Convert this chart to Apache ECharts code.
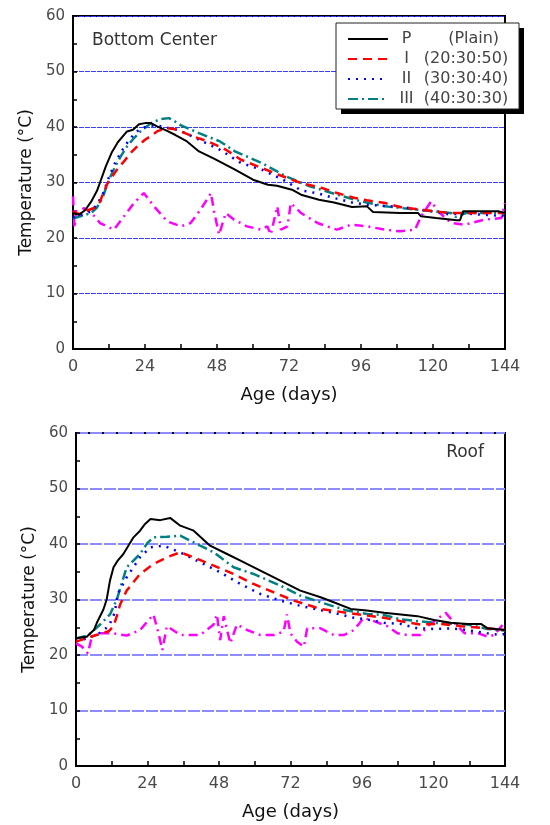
<!DOCTYPE html>
<html>
<head>
<meta charset="utf-8">
<script src="https://cdn.jsdelivr.net/npm/echarts@6/dist/echarts.min.js"></script>
<style>
html,body{margin:0;padding:0;background:#fff;}
#main{width:550px;height:825px;}
</style>
</head>
<body>
<div id="main"></div>
<script>
// ---------- axis ticks ----------
const xTicks = [0, 24, 48, 72, 96, 120, 144];
const yTicks = [0, 10, 20, 30, 40, 50, 60];
const seriesNames = ['P', 'I', 'II', 'III'];
const ratioLabels = ['   (Plain)', '(20:30:50)', '(30:30:40)', '(40:30:30)'];
const panelTitles = ['Bottom Center', 'Roof'];

// ---------- Bottom Center ----------
const bcPDays = [0,2,4,6,8,9,11,13,15,18,20,22,24,26,28,31,34,38,42,47,54,60,65,68,73,76,82,87,93,98,100,109,115,116,121,128,129,130,142,144];
const bcPTemp = [24.5,24.2,25,26.5,28.5,30,33,35.5,37.3,39.2,39.5,40.5,40.7,40.7,40.1,39.4,38.6,37.4,35.6,34.3,32.3,30.5,29.6,29.4,28.7,27.8,26.9,26.4,25.6,25.7,24.7,24.5,24.5,23.9,23.6,23.2,23.2,24.8,24.8,24.5];

const bcIDays = [0,2,4,7,9,10,11.5,13,15,17,19,21,24,26,28,31,34,36,40,45,51,56,63,69,76,83,88,94,98,104,109,116,121,125,130,137,144];
const bcITemp = [24.8,24.3,24.8,25.4,26.5,28,29.8,31,32.6,33.8,35.2,36.3,37.7,38.4,39.2,39.8,39.6,39.2,38.3,37.4,35.9,34.1,32.6,31.3,29.9,29,28.1,27.2,26.8,26.3,25.6,25.1,24.8,24.5,24.5,24.5,24.5];

const bcIIDays = [0,3,6,8,10,12,14,16,18,20,22,25,28,31,34,38,42,49,56,63,70,76,82,87,93,98,109,120,126,129,136,143,144];
const bcIITemp = [23.7,24.2,24.8,26,28,31,33.5,35.5,37.1,38.5,39.5,40.2,40.3,39.9,39.6,38.8,37.7,35.9,33.5,32.3,30.5,28.6,28.0,27.2,26.4,26.0,25.6,24.8,24.2,24.5,24.2,24.0,24.2];

const bcIIIDays = [0,3,6,8,10,12,14,16,18,20,22.5,26,29,32,34,36,42,49,54,63,71,79,90,96,104,115,126,127.5,131,143,144];
const bcIIITemp = [23.5,24.0,24.5,25.5,27.5,30.5,32.8,34.8,36.5,37.8,39.2,40.7,41.4,41.6,41.0,40.3,38.9,37.4,35.6,33.5,31.1,29.3,27.5,26.6,25.7,25.1,24.5,23.8,24.5,24.5,24.5];

const bcAirDays = [0,0.5,1,2,3.6,5.8,9,13.6,17,20.3,23.6,27,31.4,36,39.2,42.5,45.3,46,47,48.7,50.9,53.7,58,62.6,64.8,65.9,68.1,69.3,71.5,72.6,76,81.5,88,92.7,98,104,109,114,116,119.4,121.7,126,130.5,137,142.8,144];
const bcAirTemp = [27.5,21.8,25,24,25.4,24.8,22.7,21.5,23.9,26.3,28.1,25.7,23,22.1,22.7,25.1,27.5,28.1,24.8,20.6,24.5,23.3,22.1,21.5,22.1,20.6,25.7,21.5,22.1,26.3,24.5,22.7,21.5,22.4,22.1,21.5,21.2,21.5,23.9,26.6,24.8,22.7,22.4,23.3,23.6,26.3];

// ---------- Roof ----------
const rfPDays = [0,3.6,6,7,9.2,10.3,11.4,12.6,14,15.9,19.3,21.5,23,25,28.3,31.6,35,39.5,45,50.7,55.2,61.9,68.6,75.3,82.1,86.5,92.2,97.6,103.4,109,114.6,120.2,125.8,131.4,135.9,138.2,144];
const rfPTemp = [23.0,23.3,24.5,25.8,28.2,30,33.4,35.8,37,38.2,41.2,42.4,43.5,44.5,44.3,44.7,43.3,42.4,39.7,38.2,37,35.2,33.4,31.6,30.4,29.5,28.3,28.0,27.6,27.3,27.0,26.3,25.8,25.6,25.6,24.8,24.5];

const rfIDays = [0,5,8,11,12.6,13.7,14.8,17,21.5,26,30.5,35,39.5,46.2,52.9,59.6,66.4,73.1,82.1,91,97.8,103.4,109,115.7,122.5,129.2,136,144];
const rfITemp = [22.4,23.3,23.8,24.3,25.2,27,29.1,31.6,34.6,36.4,37.6,38.5,37.6,36.1,34.6,32.8,31.3,29.8,28.3,27.6,27.1,26.7,26.1,25.5,25.6,25.2,24.9,24.5];

const rfIIDays = [0,4,8,11,13,14,17,21.5,25,29.4,35,41.7,48.4,55.2,61.9,68.6,75,81,86.5,93.3,97.8,103.4,109,114.6,120.2,125.8,131.4,138,142.6,144];
const rfIITemp = [22.5,23.0,24.0,25.2,27.6,31.0,34.0,37.6,39.4,39.7,38.5,36.7,34.9,32.8,31.0,29.8,28.9,28.2,27.6,26.7,26.4,25.8,25.6,24.8,24.7,24.8,24.5,23.9,23.6,23.8];

const rfIIIDays = [0,4,8.1,11.4,13.7,17,21.5,24,26,30.5,35,39.5,46.2,52.9,59.6,68.6,75.3,82.1,91,97.8,103.4,109,120.2,131.4,138,144];
const rfIIITemp = [23.0,23.5,25.5,27.3,30,35.8,38.2,40.2,41.2,41.3,41.5,40.3,38.5,35.8,34.6,32.5,30.7,29.5,28.0,27.4,27.2,26.4,25.8,25.5,24.7,24.4];

const rfAirDays = [0,2,4,5.3,8,12.6,17,21.5,26,27.7,29,30.5,35,41.7,46.2,47.3,48.4,49.6,51.8,54,57.4,61.9,66.4,69.7,70.8,72,74.2,76.5,77.6,82.1,86.5,89.9,93.3,96.6,100,104.5,107.9,111.2,115.7,118,120.2,124.1,127,130.5,135,138.2,140.4,143.7];
const rfAirTemp = [22.1,21.5,20.3,23.3,23.9,23.9,23.5,24.5,27.3,23.9,20.9,25.2,23.6,23.6,25.5,27.3,22.7,27,22.1,25.5,24.5,23.6,23.6,24.2,27.3,23.9,22.4,21.5,24.8,24.8,23.6,23.6,24.5,26.7,26.1,25.2,23.9,23.6,23.6,25.2,26.1,27.6,25.8,23.9,23.9,23.3,23.6,25.8];

// ---------- build ----------
const FONT = 'DejaVu Sans';
const zip = (xs, ys) => xs.map((x, i) => [x, ys[i]]);

const styles = [
  {color: '#000000', width: 2, type: 'solid'},
  {color: '#ff0000', width: 2.5, type: [9, 6]},
  {color: '#0000ff', width: 2.5, type: [2, 6]},
  {color: '#008080', width: 2.5, type: [10, 4, 2, 4]}
];
const airStyle = {color: '#ff00ff', width: 2.5, type: [9, 5, 2, 5]};

const panels = [
  {days: [bcPDays, bcIDays, bcIIDays, bcIIIDays], temps: [bcPTemp, bcITemp, bcIITemp, bcIIITemp], airD: bcAirDays, airT: bcAirTemp},
  {days: [rfPDays, rfIDays, rfIIDays, rfIIIDays], temps: [rfPTemp, rfITemp, rfIITemp, rfIIITemp], airD: rfAirDays, airT: rfAirTemp}
];

const grids = [
  {left: 73, top: 16, width: 432, height: 333},
  {left: 76, top: 433, width: 429, height: 333}
];
const splitStyles = [
  {color: '#3c3cff', width: 1, type: [5, 1]},
  {color: '#8c8cff', width: 2, type: [12, 2]}
];

const xAxes = [], yAxes = [], series = [];
grids.forEach((g, i) => {
  g.show = true; g.borderColor = '#000'; g.borderWidth = 2; g.backgroundColor = 'transparent';
  xAxes.push({
    type: 'value', gridIndex: i, min: xTicks[0], max: xTicks[xTicks.length - 1], interval: xTicks[1] - xTicks[0],
    name: 'Age (days)', nameLocation: 'middle', nameGap: 37,
    nameTextStyle: {fontFamily: FONT, fontSize: 18, color: '#111'},
    axisLine: {show: true, onZero: false, lineStyle: {color: '#000', width: 2}},
    axisTick: {show: true, inside: true, length: 5, lineStyle: {color: '#000', width: 1.5}},
    minorTick: {show: true, splitNumber: 2, length: 5, lineStyle: {color: '#000', width: 1.5}},
    axisLabel: {fontFamily: FONT, fontSize: 16, color: '#4a4a4a', margin: 10},
    splitLine: {show: false}
  });
  yAxes.push({
    type: 'value', gridIndex: i, min: yTicks[0], max: yTicks[yTicks.length - 1], interval: yTicks[1] - yTicks[0],
    name: 'Temperature (°C)', nameLocation: 'middle', nameGap: 37, nameRotate: 90,
    nameTextStyle: {fontFamily: FONT, fontSize: 17, color: '#111'},
    axisLine: {show: true, onZero: false, lineStyle: {color: '#000', width: 2}},
    axisTick: {show: true, inside: true, length: 4, lineStyle: {color: '#000', width: 1.5}},
    minorTick: {show: true, splitNumber: 2, length: 4, lineStyle: {color: '#000', width: 1.5}},
    axisLabel: {fontFamily: FONT, fontSize: 15, color: '#4a4a4a', margin: 8},
    splitLine: {show: true, lineStyle: splitStyles[i]}
  });
  const p = panels[i];
  series.push({
    type: 'line', name: 'air', xAxisIndex: i, yAxisIndex: i, symbol: 'none',
    data: zip(p.airD, p.airT), lineStyle: airStyle, itemStyle: {color: airStyle.color}, z: 2, silent: true
  });
  seriesNames.forEach((n, k) => {
    series.push({
      type: 'line', name: n, xAxisIndex: i, yAxisIndex: i, symbol: 'none',
      data: zip(p.days[k], p.temps[k]), lineStyle: styles[k], itemStyle: {color: styles[k].color}, z: 3 + (3 - k)
    });
  });
});

const chart = echarts.init(document.getElementById('main'), null, {renderer: 'canvas'});
chart.setOption({
  animation: false,
  backgroundColor: '#fff',
  title: [
    {text: panelTitles[0], left: 87, top: 27, textStyle: {fontFamily: FONT, fontSize: 17, fontWeight: 'normal', color: '#333'}},
    {text: panelTitles[1], right: 61, top: 439, textStyle: {fontFamily: FONT, fontSize: 17, fontWeight: 'normal', color: '#333'}}
  ],
  graphic: [
    {type: 'rect', z: 50, shape: {x: 341, y: 28, width: 183, height: 86}, style: {fill: '#000'}, silent: true},
    {type: 'rect', z: 51, shape: {x: 336, y: 23, width: 183, height: 86}, style: {fill: '#fff', stroke: '#222', lineWidth: 1}, silent: true}
  ],
  legend: {
    data: seriesNames, orient: 'vertical', left: 336, top: 23, z: 60,
    padding: [8, 8, 3, 11], itemGap: 4, itemWidth: 40, itemHeight: 16,
    selectedMode: false,
    itemStyle: {opacity: 0},
    lineStyle: {opacity: 1},
    formatter: name => '{a|' + name + '}{b|' + ratioLabels[seriesNames.indexOf(name)] + '}',
    textStyle: {
      fontFamily: FONT, fontSize: 16, color: '#444',
      rich: {
        a: {width: 27, align: 'center', fontFamily: FONT, fontSize: 16, color: '#444', lineHeight: 16},
        b: {width: 92, align: 'left', fontFamily: FONT, fontSize: 16, color: '#444', lineHeight: 16}
      }
    }
  },
  grid: grids,
  xAxis: xAxes,
  yAxis: yAxes,
  series: series
});
</script>
</body>
</html>
